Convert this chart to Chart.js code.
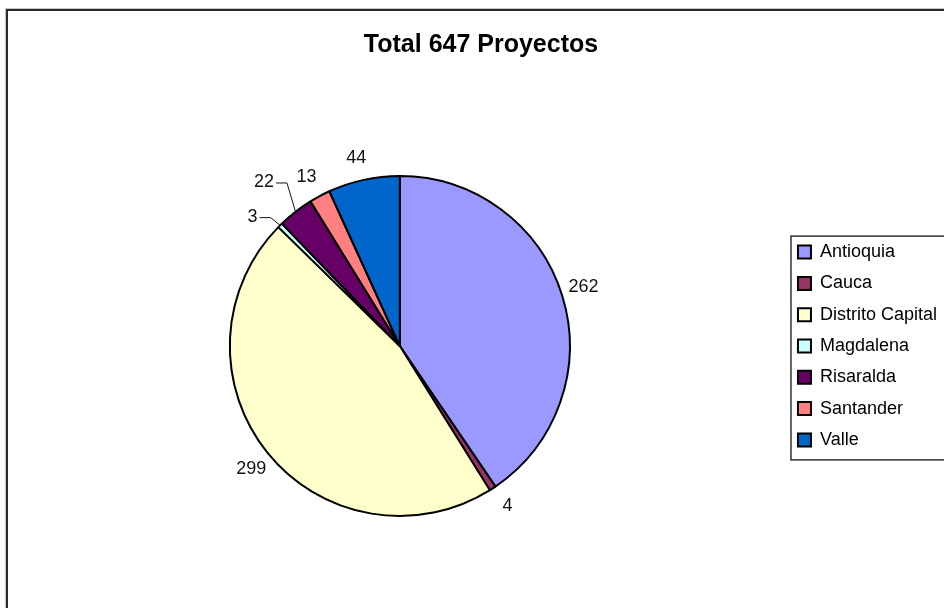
<!DOCTYPE html>
<html>
<head>
<meta charset="utf-8">
<script src="https://cdn.jsdelivr.net/npm/chart.js@4.4.1/dist/chart.umd.min.js"></script>
<style>
  html, body { margin: 0; padding: 0; background: #fff; overflow: hidden; }
  #frame { position: absolute; left: 6px; top: 9px; width: 1000px; height: 700px; border: 2px solid #2b2b2b; box-shadow: 0 0 0 1px #c8c8c8; }
  #chart { position: absolute; left: 0; top: 0; }
</style>
</head>
<body>
<div id="frame"></div>
<canvas id="chart" width="944" height="608"></canvas>
<script>
const titleText = "Total 647 Proyectos";
const departamentos = ["Antioquia", "Cauca", "Distrito Capital", "Magdalena", "Risaralda", "Santander", "Valle"];
const proyectos = [262, 4, 299, 3, 22, 13, 44];
const colores = ["#9999FF", "#993366", "#FFFFCC", "#CCFFFF", "#660066", "#FF8080", "#0066CC"];

const FONT = "'Liberation Sans', Arial, sans-serif";

// thin slices get their number pulled further out and tied back with a line
const labelNudge = {
  3: { angle: -3.9, extra: 26, leader: true },
  4: { angle: -1.8, extra: 43, leader: true }
};

const valueLabels = {
  id: "valueLabels",
  afterDatasetsDraw(chart) {
    const ctx = chart.ctx;
    const meta = chart.getDatasetMeta(0);
    ctx.save();
    ctx.font = "18px " + FONT;
    ctx.fillStyle = "#111";
    ctx.strokeStyle = "#111";
    ctx.lineWidth = 1;
    ctx.textAlign = "center";
    ctx.textBaseline = "middle";
    meta.data.forEach((arc, i) => {
      const p = arc.getProps(["x", "y", "startAngle", "endAngle", "outerRadius"], true);
      const mid = (p.startAngle + p.endAngle) / 2;
      const nudge = labelNudge[i] || { angle: -0.8, extra: 23 };
      const a = mid + nudge.angle * Math.PI / 180;
      const r = p.outerRadius + nudge.extra;
      const lx = p.x + Math.cos(a) * r;
      const ly = p.y + Math.sin(a) * r;
      const text = String(chart.data.datasets[0].data[i]);
      ctx.fillText(text, lx, ly);
      if (nudge.leader) {
        const w = ctx.measureText(text).width;
        const sx = lx + w / 2 + 2;
        ctx.beginPath();
        ctx.moveTo(sx, ly + 1);
        ctx.lineTo(sx + 11, ly + 1);
        ctx.lineTo(p.x + Math.cos(mid) * p.outerRadius, p.y + Math.sin(mid) * p.outerRadius);
        ctx.stroke();
      }
    });
    ctx.restore();
  }
};

// box drawn around the legend entries
const legendFrame = {
  id: "legendFrame",
  afterDraw(chart) {
    const boxes = chart.legend && chart.legend.legendHitBoxes;
    if (!boxes || !boxes.length) return;
    const first = boxes[0];
    const last = boxes[boxes.length - 1];
    const ctx = chart.ctx;
    ctx.save();
    ctx.strokeStyle = "#333";
    ctx.lineWidth = 1.5;
    const top = first.top - 7;
    const bottom = last.top + last.height + 11;
    ctx.strokeRect(first.left - 7, top, 220, bottom - top);
    ctx.restore();
  }
};

new Chart(document.getElementById("chart"), {
  type: "pie",
  data: {
    labels: departamentos,
    datasets: [{
      data: proyectos,
      backgroundColor: colores,
      borderColor: "#000",
      borderWidth: 2
    }]
  },
  options: {
    responsive: false,
    animation: false,
    devicePixelRatio: 1,
    events: [],
    layout: { padding: { left: 15, right: -3, top: 0, bottom: 91 } },
    plugins: {
      title: {
        display: true,
        text: titleText,
        color: "#000",
        font: { family: FONT, size: 25, weight: "bold" },
        padding: { top: 30, bottom: 115 }
      },
      legend: {
        position: "right",
        fullSize: false,
        labels: {
          color: "#000",
          font: { family: FONT, size: 18 },
          boxWidth: 13,
          boxHeight: 13,
          padding: 13.3
        }
      },
      tooltip: { enabled: false }
    }
  },
  plugins: [valueLabels, legendFrame]
});
</script>
</body>
</html>
